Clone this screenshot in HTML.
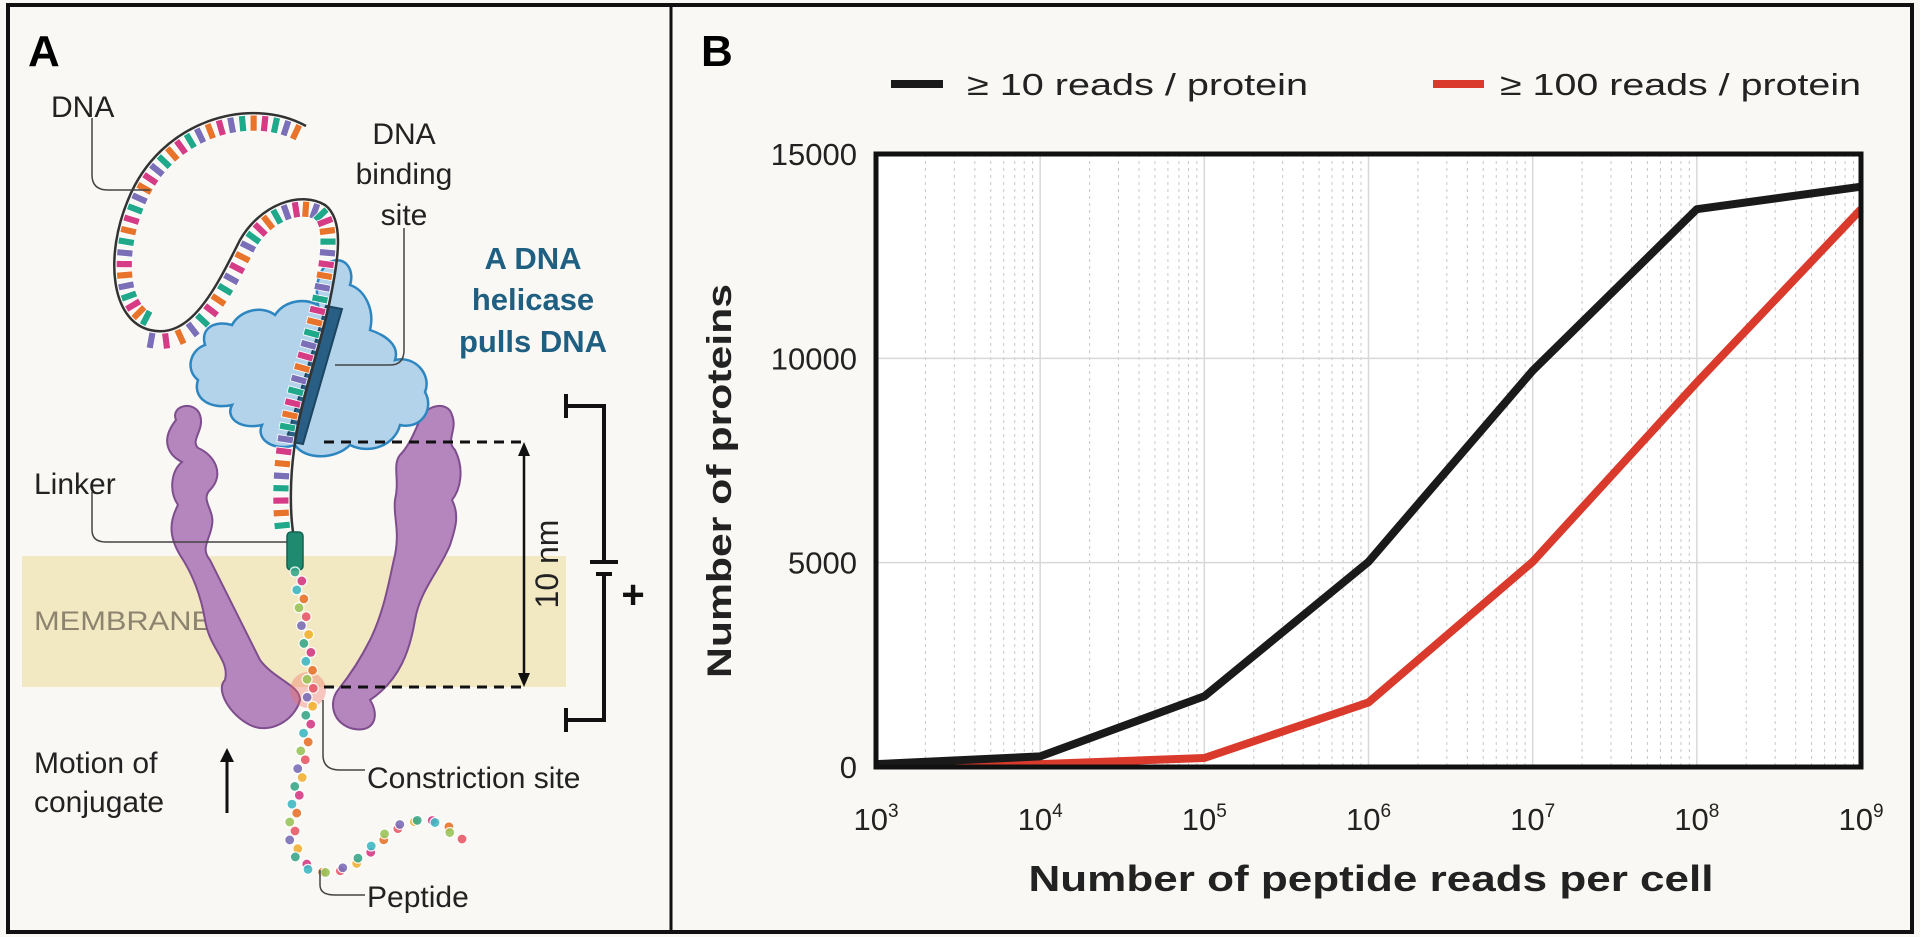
<!DOCTYPE html>
<html><head><meta charset="utf-8"><style>
html,body{margin:0;padding:0;background:#f9f8f4;}
svg{display:block;}
text{font-family:"Liberation Sans Narrow","Liberation Sans",sans-serif;}
</style></head><body>
<svg id="fig" width="1920" height="937" viewBox="0 0 1920 937" xmlns="http://www.w3.org/2000/svg">
<rect x="0" y="0" width="1920" height="937" fill="#f9f8f4"/>
<rect x="8" y="5" width="1904" height="927" fill="none" stroke="#111" stroke-width="4"/>
<line x1="671" y1="5" x2="671" y2="932" stroke="#111" stroke-width="3"/>

<!-- Panel A -->
<g id="panelA">
<text x="28" y="66" font-size="44" font-weight="bold" style="font-family:'Liberation Sans',sans-serif">A</text>
<rect x="22" y="556" width="544" height="131" fill="#f2e9c3"/>
<text x="34" y="630" font-size="27" fill="#8c846f" textLength="178" lengthAdjust="spacingAndGlyphs">MEMBRANE</text>
<!-- purple pore -->
<path d="M176,420 C170,405 195,400 200,415 C205,430 190,440 198,448 C215,455 225,475 210,490 C200,500 215,510 212,525 C210,540 200,548 210,560 C225,590 240,620 260,660 C275,680 300,685 300,700 C295,720 270,735 250,725 C230,715 215,690 225,680 C230,660 210,650 205,620 C200,590 190,570 180,555 C168,535 170,520 178,505 C168,490 172,470 182,462 C168,455 160,440 176,420 Z" fill="#b586bd" stroke="#7d4d8e" stroke-width="2"/>
<path d="M420,420 C425,405 448,400 452,415 C458,430 445,440 455,450 C465,470 460,490 452,500 C460,515 455,530 450,545 C440,570 420,590 415,620 C410,650 400,680 370,700 C380,715 375,735 350,728 C330,720 330,700 338,690 C350,675 360,660 370,640 C385,610 390,575 395,555 C400,530 393,515 395,500 C400,480 392,465 400,455 C410,445 415,430 420,420 Z" fill="#b586bd" stroke="#7d4d8e" stroke-width="2"/>
<!-- helicase blob -->
<path d="M330,262 C345,255 355,270 350,285 C365,290 375,310 370,330 C385,335 400,345 395,360 C415,355 432,375 425,392 C435,410 420,430 400,425 C395,445 370,455 350,445 C335,460 305,460 295,445 C275,452 255,440 262,425 C240,430 225,418 232,405 C210,410 192,398 198,380 C185,370 190,350 205,345 C200,328 215,320 232,325 C240,310 262,305 275,315 C285,300 305,298 318,305 C315,285 318,270 330,262 Z" fill="#b3d3ea" stroke="#2e86c1" stroke-width="2.5"/>
<path d="M326,306 L342,309 L303,444 L286,441 Z" fill="#2a5f85" stroke="#1b4561" stroke-width="2"/>
<path id="dnaPath" d="M306,126 C250,95 160,120 128,200 C105,255 110,320 150,330 C190,340 215,290 240,240 C260,205 300,190 325,205 C345,220 338,260 330,300 C320,350 300,400 294,450 C290,480 290,510 293,532" fill="none" stroke="#333" stroke-width="2.5"/>
<g id="dnaTicks"></g>
<rect x="287" y="532" width="16" height="38" rx="4" fill="#1f8a70" stroke="#136050" stroke-width="1.5"/>
<path id="pepPath" d="M298,572 C302,620 312,660 310,700 C308,740 295,790 292,830 C292,860 310,880 340,870 C370,860 380,830 410,822 C440,815 450,830 460,840" fill="none" stroke="none"/>
<circle cx="308" cy="690" r="18" fill="#f06a5a" opacity="0.35"/>
<g id="pepBeads"></g>
<!-- callout lines -->
<path d="M92,118 L92,175 Q92,190 108,190 L150,190" fill="none" stroke="#444" stroke-width="1.5"/>
<path d="M404,228 L404,350 Q404,365 390,365 L335,365" fill="none" stroke="#444" stroke-width="1.5"/>
<path d="M92,492 L92,530 Q92,542 106,542 L287,542" fill="none" stroke="#444" stroke-width="1.5"/>
<path d="M323,700 L323,755 Q323,770 340,770 L365,770" fill="none" stroke="#444" stroke-width="1.5"/>
<path d="M320,870 L320,885 Q320,895 335,895 L365,895" fill="none" stroke="#444" stroke-width="1.5"/>
<!-- labels -->
<g font-size="30" fill="#222" style="font-family:'Liberation Sans Narrow','Liberation Sans',sans-serif">
<text x="51" y="117">DNA</text>
<text x="404" y="144" text-anchor="middle">DNA</text>
<text x="404" y="184" text-anchor="middle">binding</text>
<text x="404" y="225" text-anchor="middle">site</text>
<text x="34" y="494">Linker</text>
<text x="34" y="773">Motion of</text>
<text x="34" y="812">conjugate</text>
<text x="367" y="788">Constriction site</text>
<text x="367" y="907">Peptide</text>
</g>
<g font-size="31" fill="#1f5f82" font-weight="bold" text-anchor="middle" style="font-family:'Liberation Sans Narrow','Liberation Sans',sans-serif">
<text x="533" y="269">A DNA</text>
<text x="533" y="310">helicase</text>
<text x="533" y="352">pulls DNA</text>
</g>
<line x1="227" y1="813" x2="227" y2="758" stroke="#111" stroke-width="3"/>
<path d="M220,762 L227,748 L234,762 Z" fill="#111"/>
<line x1="324" y1="442" x2="527" y2="442" stroke="#111" stroke-width="3" stroke-dasharray="10,7"/>
<line x1="324" y1="687" x2="527" y2="687" stroke="#111" stroke-width="3" stroke-dasharray="10,7"/>
<line x1="524" y1="452" x2="524" y2="677" stroke="#111" stroke-width="2.5"/>
<path d="M518,456 L524,442 L530,456 Z M518,673 L524,687 L530,673 Z" fill="#111"/>
<text x="558" y="564" font-size="32" fill="#222" text-anchor="middle" transform="rotate(-90 558 564)" style="font-family:'Liberation Sans',sans-serif">10 nm</text>
<path d="M566,406 L604,406 L604,562 M590,562 L618,562 M596,574 L612,574 M604,574 L604,720 L566,720 M566,394 L566,418 M566,708 L566,732" fill="none" stroke="#111" stroke-width="4"/>
<text x="633" y="608" font-size="40" font-weight="bold" text-anchor="middle" fill="#111" style="font-family:'Liberation Sans',sans-serif">+</text>
</g>

<!-- Panel B -->
<g id="panelB">
<text x="701" y="66" font-size="44" font-weight="bold" style="font-family:'Liberation Sans',sans-serif">B</text>
<line x1="891" y1="84" x2="943" y2="84" stroke="#1a1a1a" stroke-width="8"/>
<text x="967" y="95" font-size="31" fill="#222" textLength="341" lengthAdjust="spacingAndGlyphs">≥ 10 reads / protein</text>
<line x1="1433" y1="84" x2="1484" y2="84" stroke="#d93a2b" stroke-width="8"/>
<text x="1500" y="95" font-size="31" fill="#222" textLength="361" lengthAdjust="spacingAndGlyphs">≥ 100 reads / protein</text>
<rect x="876" y="154" width="985" height="613" fill="#fff"/>
<g id="grid"></g>
<g id="series"></g>
<rect x="876" y="154" width="985" height="613" fill="none" stroke="#111" stroke-width="5"/>
<g id="yticks"></g>
<g id="xticks"></g>
<text x="1371" y="891" font-size="36" fill="#222" font-weight="bold" text-anchor="middle" textLength="685" lengthAdjust="spacingAndGlyphs" style="font-family:'Liberation Sans',sans-serif">Number of peptide reads per cell</text>
<text x="731" y="481" font-size="34" fill="#222" font-weight="bold" text-anchor="middle" textLength="394" lengthAdjust="spacingAndGlyphs" transform="rotate(-90 731 481)" style="font-family:'Liberation Sans',sans-serif">Number of proteins</text>
</g>
</svg>
<script>
const exponents = [3,4,5,6,7,8,9];
const yTicks = [0,5000,10000,15000];
const reads10 = [70,260,1730,5020,9700,13650,14200];
const reads100 = [70,70,220,1580,5020,9410,13650];

const NS='http://www.w3.org/2000/svg';
const X0=876,X1=1861,Y0=767,Y1=154;
function xScale(e){return X0+(e-3)/6*(X1-X0);}
function yScale(v){return Y0-v/15000*(Y0-Y1);}
function mk(tag,attrs,parent){const el=document.createElementNS(NS,tag);for(const k in attrs)el.setAttribute(k,attrs[k]);parent.appendChild(el);return el;}

const grid=document.getElementById('grid');
for(let e=3;e<9;e++){for(let m=2;m<10;m++){
  const x=xScale(e+Math.log10(m));
  const l=mk('line',{x1:x,x2:x,y1:Y1,y2:Y0,stroke:'#c8c8c8','stroke-width':1,'stroke-dasharray':'3,4'},grid);
  
  
}}
exponents.forEach(e=>{const x=xScale(e);
  const l=mk('line',{x1:x,x2:x,y1:Y1,y2:Y0,stroke:'#d8d8d8','stroke-width':1.5},grid);
  
  
});
yTicks.forEach(v=>{const y=yScale(v);
  const l=mk('line',{x1:X0,x2:X1,y1:y,y2:y,stroke:'#d8d8d8','stroke-width':1.5},grid);
  
  
});
const yt=document.getElementById('yticks');
yTicks.forEach(v=>{
  const t=mk('text',{x:857,y:yScale(v)+11,'font-size':31,fill:'#222','text-anchor':'end'},yt);
  t.textContent=String(v);
  
  
});
const xt=document.getElementById('xticks');
exponents.forEach(e=>{
  const t=mk('text',{x:xScale(e),y:830,'font-size':31,fill:'#222','text-anchor':'middle'},xt);
  t.textContent='10';
  const s=mk('tspan',{'font-size':19,dy:-13},t);s.textContent=String(e);
  
  
});
const ser=document.getElementById('series');
function line(vals,color,name){
  const d=vals.map((v,i)=>(i?'L':'M')+xScale(exponents[i]).toFixed(1)+','+yScale(v).toFixed(1)).join(' ');
  const p=mk('path',{d:d,fill:'none',stroke:color,'stroke-width':8,'stroke-linejoin':'round'},ser);
  
  
}
line(reads100,'#d93a2b','line-100-reads');
line(reads10,'#1a1a1a','line-10-reads');

// DNA base ticks
const cols=['#e8742c','#7b6fb8','#1fa88a','#d63c86','#e8742c','#1fa88a','#7b6fb8','#d63c86'];
const dp=document.getElementById('dnaPath'),dt=document.getElementById('dnaTicks');
const L=dp.getTotalLength();
let k=0;
for(let s=6;s<L-6;s+=12){
  const p=dp.getPointAtLength(s),q=dp.getPointAtLength(s+1);
  const ang=Math.atan2(q.y-p.y,q.x-p.x)*180/Math.PI;
  const side=(s<360)?-1:1;
  const r=mk('rect',{x:-3,y:side<0?-18:2,width:7,height:16,fill:cols[k%8],stroke:'#fff','stroke-width':0.8,transform:`translate(${p.x},${p.y}) rotate(${ang})`},dt);
  
  
  k++;
}
const pp=document.getElementById('pepPath'),pb=document.getElementById('pepBeads');
const PL=pp.getTotalLength();
const bc=['#3aa88a','#e8742c','#7b6fb8','#d63c86','#9bc45a','#f2b134','#3fb8c4','#e85a6a'];
k=0;
for(let s=0;s<PL;s+=9){
  const p=pp.getPointAtLength(s);
  const c=mk('circle',{cx:p.x+((k%2)?3:-3),cy:p.y,r:5,fill:bc[(k*3)%8],stroke:'#fff','stroke-width':1.2,opacity:0.9},pb);
  
  
  k++;
}
</script>
</body></html>
